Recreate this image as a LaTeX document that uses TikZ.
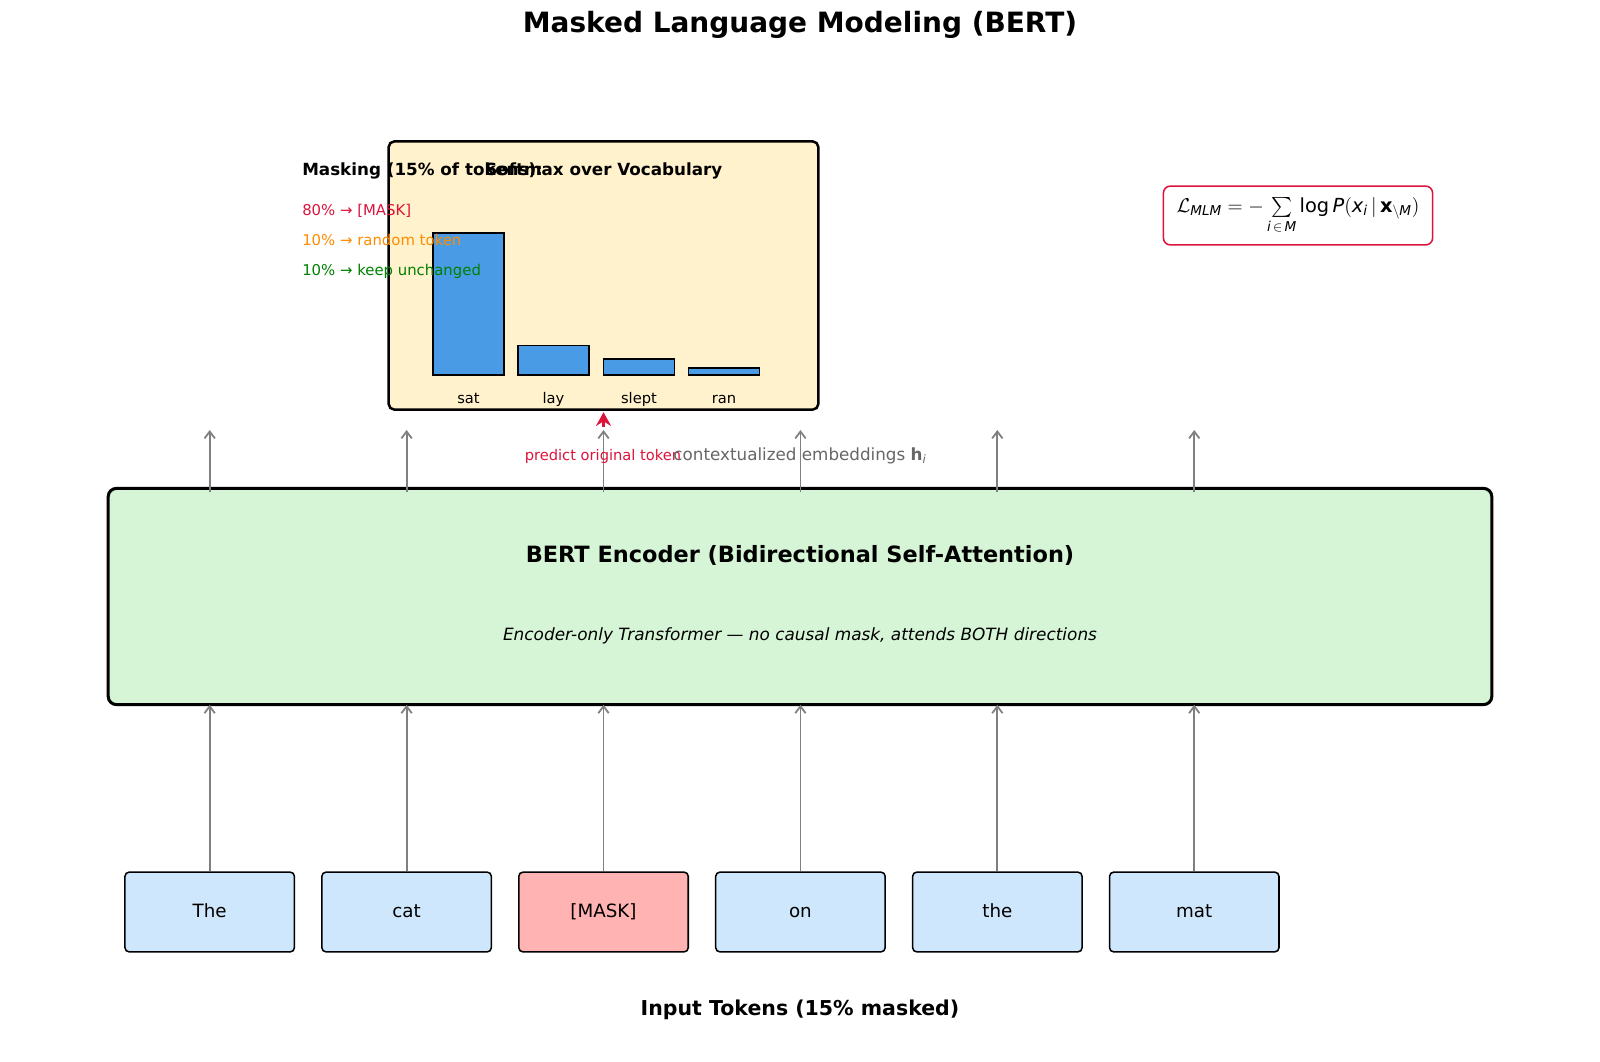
\documentclass[tikz,border=0pt]{standalone}
\usepackage{amsmath}
\usepackage{fontspec}
\setmainfont{DejaVu Sans}
\usetikzlibrary{arrows.meta, positioning}
\definecolor{tokfill}{RGB}{207,231,252}
\definecolor{maskfill}{RGB}{255,179,179}
\definecolor{encfill}{RGB}{214,245,214}
\definecolor{panelfill}{RGB}{255,242,204}
\definecolor{barfill}{RGB}{74,155,230}
\definecolor{crimson}{RGB}{220,20,60}
\definecolor{darkorange}{RGB}{255,140,0}
\definecolor{keepgreen}{RGB}{0,128,0}
\definecolor{embgray}{RGB}{102,102,102}
\newcommand{\setfs}[1]{\fontsize{#1}{#1}\selectfont}
\newcommand{\sfit}[1]{\text{\itshape #1}}

\begin{document}
\begin{tikzpicture}
[x=0.01in, y=-0.01in, >={Straight Barb[length=5pt,width=7.5pt]}, every node/.style={inner sep=0pt}]
% Define styles for boxes, bars and arrows
\tikzstyle{token} = [draw, fill=tokfill, rounded corners=3pt, line width=1.1pt, minimum width=122.4pt, minimum height=57.6pt, text height=0.76em, text depth=0pt, font=\setfs{13.2}]
\tikzstyle{masked} = [token, fill=maskfill]
\tikzstyle{encoder} = [draw, fill=encfill, rounded corners=6pt, line width=2.2pt, minimum width=999.4pt, minimum height=156.2pt]
\tikzstyle{panel} = [draw, fill=panelfill, rounded corners=4pt, line width=1.8pt, minimum width=310.3pt, minimum height=193.7pt]
\tikzstyle{bar} = [draw, fill=barfill, line width=1.1pt, minimum width=51pt, anchor=south]
\tikzstyle{barlabel} = [anchor=base, font=\setfs{10.6}]
\tikzstyle{legend} = [anchor=base west, font=\setfs{10.75}]
\tikzstyle{flow} = [->, draw=gray, line width=1.3pt]
\tikzstyle{predict} = [-{Stealth[length=10pt,width=11pt,inset=3.5pt]}, draw=crimson, line width=1.8pt]

\useasboundingbox (0,0) rectangle (1600,1061);

% Title
\node (title) at (800,24.5) {\setfs{20.2}\bfseries Masked Language Modeling (BERT)};

% Input tokens
\node [token] (tok1) at (209.7,912) {The};
\node [token, right of=tok1, node distance=1.968in] (tok2) {cat};
\node [masked, right of=tok2, node distance=1.968in] (tok3) {[MASK]};
\node [token, right of=tok3, node distance=1.968in] (tok4) {on};
\node [token, right of=tok4, node distance=1.968in] (tok5) {the};
\node [token, right of=tok5, node distance=1.968in] (tok6) {mat};
\node (inlabel) at (800,1010) {\setfs{14.8}\bfseries Input Tokens (15\% masked)};

% Encoder block
\node [encoder] (enc) at (800,596.5) {};
\node [above of=enc, node distance=0.415in] (enctitle) {\setfs{16.2}\bfseries BERT Encoder (Bidirectional Self-Attention)};
\node [below of=enc, node distance=0.395in] (encsub) {\setfs{12.2}\itshape Encoder-only Transformer — no causal mask, attends BOTH directions};

% Softmax panel with bars
\node [panel] (softmax) at (603.5,275.5) {};
\node [anchor=base west] (smtitle) at (485,175.6) {\setfs{12.1}\bfseries Softmax over Vocabulary};
\node [bar, minimum height=102.2pt] (sat) at (468.5,375.5) {};
\node [bar, minimum height=21.2pt] (lay) at (553.5,375.5) {};
\node [bar, minimum height=11.2pt] (slept) at (639,375.5) {};
\node [bar, minimum height=4.7pt] (ran) at (724,375.5) {};
\node [barlabel] (satlabel) at (468.5,403) {sat};
\node [barlabel] (laylabel) at (553.5,403) {lay};
\node [barlabel] (sleptlabel) at (639,403) {slept};
\node [barlabel] (ranlabel) at (724,403) {ran};

% Masking rules
\node [anchor=base west] (masking) at (302,175.6) {\setfs{12.1}\bfseries Masking (15\% of tokens):};
\node [legend, text=crimson] (rule1) at (302,215.3) {80\% → [MASK]};
\node [legend, text=darkorange] (rule2) at (302,245.1) {10\% → random token};
\node [legend, text=keepgreen] (rule3) at (302,275.6) {10\% → keep unchanged};

% Loss
\node [draw=crimson, fill=white, rounded corners=5pt, line width=1.1pt, minimum width=194.4pt, minimum height=42.5pt, font=\setfs{14}] (loss) at (1298,215.5)
  {$\mathcal{L}_{\sfit{MLM}} = -\sum\limits_{\sfit{i}\,\in\,\sfit{M}}\text{log}\,\sfit{P}(\sfit{x}_{\sfit{i}}\,|\,\textbf{x}_{\setminus\sfit{M}})$};

% Draw edges
\coordinate (top) at (0,430);
\foreach \i in {1,...,6} {
  \draw[flow] (tok\i.north) -- ([yshift=1pt]tok\i |- enc.south);
  \draw[flow] ([yshift=-4pt]tok\i |- enc.north) -- (tok\i |- top);
}
\draw[predict] ([yshift=2pt]tok3 |- top) -- ([yshift=-1pt]tok3 |- softmax.south);

% Arrow labels
\node [text=crimson, font=\setfs{10.6}] (predlabel) at (603,456) {predict original token};
\node [text=embgray, font=\setfs{12.1}] (emblabel) at (800,456) {contextualized embeddings \textbf{h}$_{\sfit{i}}$};
\end{tikzpicture}
\end{document}
